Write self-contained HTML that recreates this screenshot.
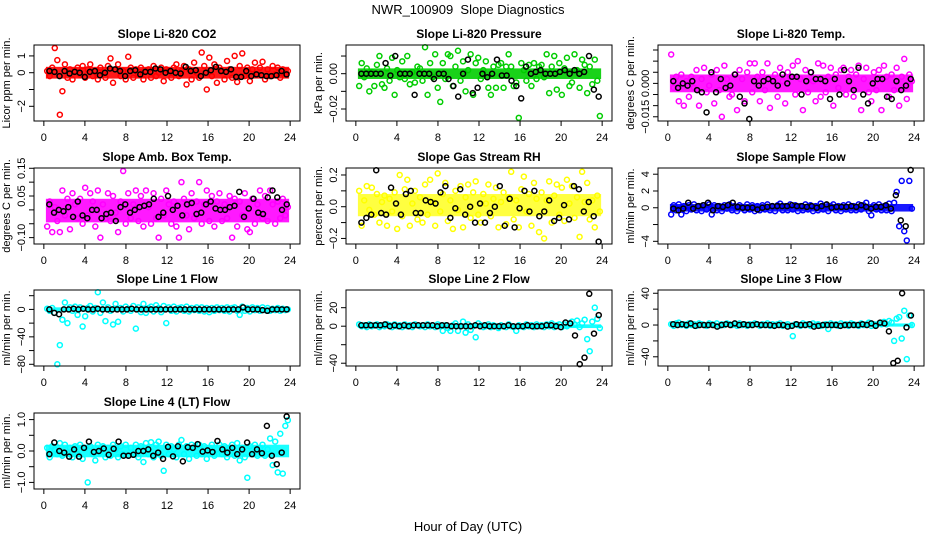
<!DOCTYPE html>
<html><head><meta charset="utf-8"><style>
html,body{margin:0;padding:0;background:#fff;}
svg{display:block;font-family:"Liberation Sans",sans-serif;}
</style></head><body>
<svg id="c" width="936" height="540" viewBox="0 0 936 540">
<text x="468" y="14" text-anchor="middle" font-size="13">NWR_100909&#160; Slope Diagnostics</text>
<text x="468" y="531" text-anchor="middle" font-size="13">Hour of Day (UTC)</text>
</svg>
<script>
const xTicks=[0,4,8,12,16,20,24];
const titles=["Slope Li-820 CO2","Slope Li-820 Pressure","Slope Li-820 Temp.","Slope Amb. Box Temp.","Slope Gas Stream RH","Slope Sample Flow","Slope Line 1 Flow","Slope Line 2 Flow","Slope Line 3 Flow","Slope Line 4 (LT) Flow"];
const yTitles=["Licor ppm per min.","kPa per min.","degrees C per min.","degrees C per min.","percent per min.","ml/min per min.","ml/min per min.","ml/min per min.","ml/min per min.","ml/min per min."];
const colors=["#ff0000","#00cd00","#ff00ff","#ff00ff","#ffff00","#0000ff","#00ffff","#00ffff","#00ffff","#00ffff"];
const yRanges=[[-2.875,1.65],[-0.0268,0.01625],[-0.0169,0.01725],[-0.123,0.151],[-0.235,0.244],[-4.32,4.74],[-82.5,28.3],[-43,39.1],[-51.6,44.1],[-1.21,1.21]];
const yTickVals=[[-2,-1,0,1],[-0.02,-0.01,0,0.01],[-0.015,-0.01,-0.005,0,0.005,0.01,0.015],[-0.1,-0.05,0,0.05,0.1,0.15],[-0.2,-0.1,0,0.1,0.2],[-4,-2,0,2,4],[-80,-60,-40,-20,0,20],[-40,-20,0,20],[-40,-20,0,20,40],[-1,-0.5,0,0.5,1]];
const yTickLabels=[["−2","","0","1"],["−0.02","","0.00",""],["−0.015","","","0.000","","",""],["−0.10","","","0.05","","0.15"],["−0.2","","0.0","","0.2"],["−4","","0","2","4"],["−80","","−40","","0",""],["−40","","0","20"],["−40","","0","","40"],["−1.0","","0.0","","1.0"]];
const bandLow=[-0.35,-0.003,-0.004,-0.045,-0.06,-0.45,-3,-2,-2,-0.2];
const bandHigh=[0.35,0.003,0.004,0.04,0.08,0.45,3,2,2,0.2];

const co2Main=[0.1,-0.2,0.3,1.47,0.75,-2.5,-1.1,0.5,-0.3,0.2,-0.4,0.1,0.3,-0.1,0.4,-0.3,0.2,0.5,-0.2,0.1,-0.4,0.3,0.0,-0.3,0.4,0.85,-0.6,0.2,0.5,-0.2,0.1,-0.4,0.95,0.3,-0.3,0.2,-0.1,0.3,-0.4,0.1,0.2,-0.3,0.4,-0.2,0.0,0.3,-0.5,0.2,0.1,-0.3,0.3,0.5,-0.2,0.1,0.4,-0.7,0.2,-0.4,0.6,0.0,-0.3,1.2,0.4,-1.0,0.9,-0.2,0.5,-0.6,0.3,0.1,-0.4,0.7,0.2,-0.3,1.0,-0.55,0.4,1.15,-0.2,0.3,-0.5,0.2,0.6,-0.1,0.3,0.65,-0.4,0.2,-0.2,0.4,-0.1,0.3,-0.3,0.2,-0.1,0.1];
const co2Black=[0.1,0.05,-0.2,0.1,-0.05,0.05,0.0,-0.25,0.05,0.1,-0.15,0.0,0.25,0.2,0.1,-0.2,0.1,0.15,-0.1,0.05,0.05,0.25,0.2,0.0,0.1,0.0,-0.05,0.35,0.1,0.15,-0.2,0.0,0.15,0.35,0.1,0.05,0.2,-0.25,-0.25,0.1,-0.2,-0.1,-0.15,-0.2,-0.2,-0.15,0.1,-0.1];
const presMain=[-0.007,0.006,-0.002,0.003,-0.010,0.001,-0.007,0.005,0.010,-0.006,-0.008,0.003,-0.004,0.009,-0.012,0.002,-0.002,0.007,-0.003,0.010,-0.006,0.001,-0.005,0.004,0.003,-0.004,0.015,-0.012,0.006,-0.002,0.011,-0.008,-0.016,0.006,-0.003,0.011,0.010,-0.007,0.004,0.013,-0.004,0.007,-0.010,0.002,0.011,-0.012,0.006,0.009,-0.003,0.002,0.007,-0.008,-0.012,0.004,-0.008,0.005,0.006,-0.008,0.004,0.011,0.004,-0.007,-0.005,-0.025,0.006,0.002,-0.004,0.005,-0.007,0.006,-0.003,0.004,0.005,-0.002,0.011,-0.011,0.004,0.010,-0.009,0.006,-0.012,0.003,0.009,-0.007,-0.005,0.011,0.002,-0.008,0.008,0.005,-0.011,0.004,-0.006,0.008,-0.004,-0.024];
const presBlack=[0.0,0.0,0.0,0.0,0.0,0.006,-0.001,0.010,0.0,0.0,0.0,-0.012,0.0,0.0,0.0,-0.003,0.0,0.0,-0.003,-0.007,-0.013,0.0,0.008,-0.011,-0.008,0.0,-0.002,0.0,0.008,-0.001,-0.001,-0.004,-0.007,-0.014,0.004,0.0,0.001,0.002,0.0,0.0,0.0,0.001,0.002,0.0,0.002,0.0,0.001,0.010,-0.009,-0.013];
const tempMain=[0.013,-0.002,0.003,-0.008,0.004,-0.010,0.001,-0.006,0.003,-0.002,0.006,-0.010,0.002,0.007,-0.004,-0.001,0.004,-0.009,0.006,-0.003,-0.015,0.008,0.002,-0.006,-0.005,0.004,-0.012,0.006,0.002,-0.008,0.005,0.009,-0.004,0.009,0.003,-0.008,0.005,-0.003,0.009,-0.011,0.002,0.004,-0.006,0.007,0.001,-0.009,0.005,0.003,0.008,-0.005,0.010,0.002,-0.012,0.006,-0.004,0.005,0.001,-0.008,0.009,-0.006,0.008,-0.004,0.003,0.007,-0.010,0.004,-0.002,0.006,0.007,-0.005,0.003,0.006,-0.006,0.004,0.008,-0.012,0.002,0.007,-0.004,-0.008,0.005,-0.003,0.006,-0.012,0.008,0.003,-0.006,0.004,-0.003,0.007,-0.010,0.003,0.011,-0.007,0.004,0.001];
const tempBlack=[0.001,-0.002,0.0,-0.001,0.001,-0.003,-0.004,-0.013,0.005,-0.004,0.002,-0.002,-0.001,0.004,-0.006,-0.009,-0.016,0.001,-0.001,0.001,0.002,0.001,-0.001,0.004,0.0,0.003,0.003,-0.005,0.001,0.005,0.002,0.002,0.001,-0.007,0.002,-0.005,0.006,0.001,-0.003,0.007,-0.005,-0.009,0.0,0.002,0.002,-0.006,-0.007,0.001,-0.003,-0.001,0.002];
const ambMain=[-0.06,0.03,-0.08,0.01,-0.04,-0.08,0.07,-0.02,0.04,-0.07,0.06,0.02,-0.03,0.04,-0.05,0.08,-0.02,0.06,0.03,-0.06,0.07,-0.10,0.02,-0.03,0.06,-0.04,0.05,-0.01,-0.08,0.03,0.14,-0.05,0.06,-0.03,0.02,0.07,-0.04,0.05,-0.06,0.07,0.01,-0.05,0.06,-0.03,-0.10,0.04,-0.02,0.07,0.02,-0.05,0.03,-0.06,-0.10,0.10,0.04,-0.02,-0.07,0.06,-0.03,0.03,0.10,-0.05,0.02,0.07,-0.04,0.05,-0.06,0.03,0.06,-0.04,0.02,-0.03,0.05,-0.10,0.04,-0.06,0.03,-0.02,0.06,-0.07,-0.08,0.04,-0.05,0.02,0.07,-0.03,0.05,-0.04,0.07,0.02,-0.05,0.03,-0.03,0.04,-0.02,0.01];
const ambBlack=[0.02,-0.01,0.0,-0.005,0.01,-0.025,0.03,-0.02,-0.03,0.0,0.0,-0.03,-0.015,-0.01,-0.04,0.01,0.02,-0.01,0.0,0.01,0.015,0.02,0.04,-0.025,-0.01,0.05,0.0,0.015,-0.02,0.02,0.025,-0.015,-0.01,0.02,0.03,0.005,0.0,0.0,0.01,0.015,0.065,-0.025,0.005,0.04,-0.01,-0.015,0.045,0.07,0.045,0.0,0.02];
const rhMain=[0.10,-0.12,0.04,0.13,-0.02,0.12,-0.05,0.08,-0.10,0.03,0.07,-0.12,0.05,-0.03,0.09,-0.14,0.20,-0.06,0.11,0.17,-0.12,0.02,0.10,-0.08,0.06,-0.10,0.14,-0.05,0.17,0.03,-0.12,0.21,-0.03,0.08,0.15,-0.09,0.04,-0.14,0.10,-0.02,0.13,-0.13,0.06,0.14,-0.07,0.09,0.16,-0.05,-0.10,0.08,0.02,0.14,-0.06,0.05,0.12,-0.13,0.03,0.09,-0.11,0.06,0.22,-0.08,0.04,-0.13,0.11,0.19,-0.03,0.08,-0.12,0.15,0.05,-0.16,0.09,-0.20,0.04,0.16,-0.10,0.07,0.14,-0.05,0.12,-0.09,0.17,0.02,0.13,-0.07,0.06,-0.19,0.22,0.03,0.15,-0.08,0.04,-0.13,0.07,-0.03];
const rhBlack=[-0.1,-0.07,-0.05,0.23,-0.04,-0.05,0.12,0.02,-0.05,0.08,0.1,-0.04,-0.04,0.04,0.03,0.02,0.09,0.13,-0.07,-0.01,0.11,-0.05,0.0,-0.1,0.02,-0.1,-0.04,0.0,0.13,-0.12,0.05,-0.13,-0.01,0.1,-0.03,0.1,-0.06,-0.03,0.04,-0.09,-0.07,0.01,-0.08,0.13,0.11,-0.03,0.03,-0.06,-0.22];
const sampMain=[-0.8,0.3,-0.3,0.4,-0.8,0.2,-0.4,0.3,-0.2,0.4,-0.3,0.2,-0.4,0.3,-0.2,0.4,-0.8,0.3,-0.3,0.2,-0.4,0.3,-0.1,0.4,-0.3,0.2,-0.4,0.3,0.1,-0.3,0.4,-0.2,0.3,-0.4,0.2,-0.3,0.3,-0.2,0.4,-0.3,0.2,-0.4,0.3,0.5,-0.3,0.2,-0.3,0.4,-0.2,0.3,-0.4,0.2,-0.3,0.4,-0.2,0.3,-0.4,0.2,-0.3,0.5,-0.2,0.3,-0.4,0.2,0.4,-0.3,0.2,-0.4,0.3,-0.2,0.4,-0.3,0.2,-0.3,0.4,-0.2,0.3,0.6,-0.4,-0.9,0.3,-0.2,0.4,-0.3,0.2,-0.3,0.5,-0.4,0.6,1.9,-2.2,3.2,-2.8,-3.9,3.2,-0.1];
const sampBlack=[-0.1,-0.3,-0.1,0.6,-0.1,0.2,0.3,0.6,-0.3,0.2,0.1,0.3,0.6,0.1,0.0,0.0,0.0,-0.2,0.0,0.1,0.2,0.2,0.2,0.2,0.3,0.2,0.2,0.1,0.2,0.0,0.2,0.4,0.0,0.1,0.1,0.1,0.2,0.1,0.3,0.1,-0.1,0.1,0.1,0.3,-0.1,1.5,-1.5,-2.2,4.5];
const l1Main=[1,-2,2,-5,-80,-52,-15,10,-20,3,-2,4,-8,3,-25,-10,2,5,-3,2,25,-5,10,-17,3,-2,-22,8,-18,2,-3,4,1,-2,5,-28,3,-4,8,-5,2,4,-3,6,2,-4,5,-20,3,-2,4,-3,2,3,-2,4,-3,2,-1,3,-2,3,-3,2,-4,2,-2,3,-1,2,-2,3,-3,2,3,-2,-8,4,-2,2,-3,3,-1,2,-2,3,-1,2,-2,1,-1,2,-2,1,-1,0];
const l1Black=[0,-5,-7,0,0,1,0,1,0,0,1,0,0,0,0,0,0,1,0,0,0,0,0,0,0,0,0,0,0,0,0,0,0,0,0,0,0,0,0,0,3,0,0,0,-1,-2,0,0,0,0];
const l2Main=[2,0,1,-1,2,0,1,2,-1,1,0,2,1,-1,2,0,1,-1,2,0,1,-1,2,1,0,1,-1,2,0,1,-1,2,0,-5,1,-2,-5,1,3,-5,0,5,-7,2,-4,0,-12,3,1,-1,0,2,-1,1,0,-2,1,0,-1,2,0,-1,-5,1,0,-1,2,0,1,-1,2,0,1,-1,2,0,3,-1,1,2,-1,2,0,3,5,2,6,-1,3,7,-14,-27,5,20,8,-2];
const l2Black=[1,1,1,1,1,2,0,1,0,1,0,1,1,1,1,1,0,1,1,0,0,0,0,0,1,0,1,0,0,0,0,1,0,0,0,1,0,0,0,1,1,0,-1,4,3,-10,-41,-34,35,-8,12];
const l3Main=[1,-1,2,3,0,1,-1,2,0,1,-1,2,1,0,-1,2,1,0,2,-1,1,0,2,1,0,1,-1,2,0,1,-1,1,0,2,1,-1,1,0,2,-1,1,0,1,2,-1,0,1,-1,-14,1,0,-1,2,0,1,-1,2,0,1,-1,0,1,-5,2,0,1,-1,2,0,1,-1,2,1,0,-1,2,0,1,3,-1,1,0,2,1,4,1,5,3,-20,8,10,-17,18,-43,12,0];
const l3Black=[1,0,1,0,2,-1,0,0,0,0,-2,0,1,0,2,0,1,0,0,1,0,0,0,-1,0,0,-2,-1,1,0,0,1,-2,-1,0,0,0,0,-1,0,0,0,0,1,0,2,-1,3,2,-8,-48,-45,40,-3,12];
const l4Main=[0.1,-0.2,0.15,0.05,-0.1,0.25,-0.15,0.2,-0.05,0.1,-0.2,0.15,-0.1,0.2,-0.25,0.1,-1.0,0.15,-0.1,-0.3,0.2,-0.05,0.15,-0.2,0.1,-0.15,0.2,0.05,-0.2,0.15,-0.1,0.2,-0.15,0.1,-0.05,0.2,-0.2,0.15,-0.35,0.25,-0.1,0.28,-0.2,0.2,0.3,-0.15,-0.63,0.2,-0.1,0.15,0.05,-0.2,0.2,0.35,-0.1,0.15,-0.25,0.2,0.1,-0.15,0.2,-0.1,0.15,-0.25,0.1,0.2,-0.15,0.05,0.2,-0.1,0.15,-0.2,0.1,0.2,-0.15,0.25,-0.3,0.1,-0.2,-0.85,0.15,-0.1,0.2,-0.15,0.1,0.2,-0.15,0.05,0.4,-0.45,0.3,-0.68,0.55,-0.72,0.8,0.98];
const l4Black=[-0.1,0.27,0.0,-0.05,-0.18,0.05,-0.18,0.1,0.3,-0.03,0.0,0.08,-0.12,0.07,0.3,-0.15,-0.15,-0.12,0.0,0.0,0.05,-0.15,-0.05,-0.25,0.13,-0.17,0.15,-0.33,0.12,0.1,0.22,-0.02,0.02,-0.03,0.32,0.05,-0.05,0.1,-0.1,0.05,0.27,-0.1,0.05,-0.07,0.8,-0.15,-0.42,-0.05,1.1];

const mainSeries=[co2Main,presMain,tempMain,ambMain,rhMain,sampMain,l1Main,l2Main,l3Main,l4Main];
const blackSeries=[co2Black,presBlack,tempBlack,ambBlack,rhBlack,sampBlack,l1Black,l2Black,l3Black,l4Black];

const svg=document.getElementById('c');
const NS="http://www.w3.org/2000/svg";
function mk(tag,attrs,parent){const e=document.createElementNS(NS,tag);for(const k in attrs)e.setAttribute(k,attrs[k]);(parent||svg).appendChild(e);return e;}
const colLeft=[34,346,658],rowTop=[45,168,290,413],W=266,H=76;
const xMin=-0.96,xMax=24.96;

for(let p=0;p<10;p++){
  const L=colLeft[p%3],T=rowTop[Math.floor(p/3)];
  const [y0,y1]=yRanges[p];
  const sx=v=>L+(v-xMin)/(xMax-xMin)*W;
  const sy=v=>T+H-(v-y0)/(y1-y0)*H;
  const g=mk('g',{});
  
  
  const t=mk('text',{x:L+W/2,y:T-7,'text-anchor':'middle','font-size':'12','font-weight':'bold'},g);
  t.textContent=titles[p];
  
  
  const yt=mk('text',{x:0,y:0,'text-anchor':'middle','font-size':'11',transform:`translate(${L-24},${T+H/2}) rotate(-90)`},g);
  yt.textContent=yTitles[p];
  
  
  const xa=mk('g',{stroke:'#000','stroke-width':'1'},g);
  
  
  mk('line',{x1:sx(xTicks[0]),x2:sx(xTicks[xTicks.length-1]),y1:T+H,y2:T+H},xa);
  xTicks.forEach(v=>{
    mk('line',{x1:sx(v),x2:sx(v),y1:T+H,y2:T+H+5},xa);
    const tl=mk('text',{x:sx(v),y:T+H+20,'text-anchor':'middle','font-size':'11',stroke:'none'},g);
    tl.textContent=v;
    
    
  });
  const ya=mk('g',{stroke:'#000','stroke-width':'1'},g);
  
  
  const tv=yTickVals[p];
  mk('line',{x1:L,x2:L,y1:sy(tv[0]),y2:sy(tv[tv.length-1])},ya);
  tv.forEach((v,i)=>{
    mk('line',{x1:L-5,x2:L,y1:sy(v),y2:sy(v)},ya);
    if(yTickLabels[p][i]){
      const tl=mk('text',{x:0,y:0,'text-anchor':'middle','font-size':'11',transform:`translate(${L-9},${sy(v)}) rotate(-90)`},g);
      tl.textContent=yTickLabels[p][i];
      
      
    }
  });
  const band=mk('rect',{x:sx(0.2),y:sy(bandHigh[p]),width:sx(23.9)-sx(0.2),height:sy(bandLow[p])-sy(bandHigh[p]),fill:colors[p],'fill-opacity':p===4?0.75:0.9},g);
  
  
  const pts=mk('g',{fill:'none','stroke-width':'1.5'},g);
  
  
  const m=mainSeries[p];
  m.forEach((v,i)=>{
    const x=0.2+(i+0.5)*23.7/m.length;
    const c=mk('circle',{cx:sx(x),cy:sy(v),r:2.5,stroke:colors[p]},pts);
    
    
  });
  const b=blackSeries[p];
  b.forEach((v,i)=>{
    const x=0.3+(i+0.5)*23.6/b.length;
    const c=mk('circle',{cx:sx(x),cy:sy(v),r:2.5,stroke:'#000'},pts);
    
    
  });
  const box=mk('rect',{x:L,y:T,width:W,height:H,fill:'none',stroke:'#000','stroke-width':'1'},g);
  
  
}
</script>
</body></html>
